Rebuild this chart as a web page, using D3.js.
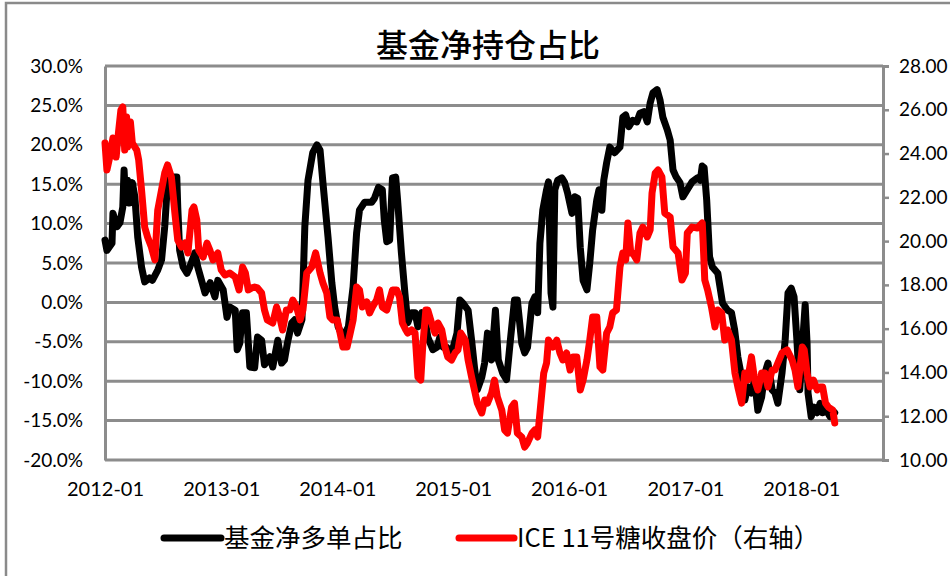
<!DOCTYPE html>
<html><head><meta charset="utf-8">
<script src="https://cdn.jsdelivr.net/npm/d3@7"></script>
<style>body{margin:0;background:#fff}svg{display:block}</style>
</head><body>
<svg id="chart" width="950" height="576"></svg>
<script>
const title = "基金净持仓占比";
const seriesNames = ["基金净多单占比", "ICE 11号糖收盘价（右轴）"];
const leftTicks = [-20,-15,-10,-5,0,5,10,15,20,25,30];
const rightTicks = [10,12,14,16,18,20,22,24,26,28];
const xTickLabels = ["2012-01","2013-01","2014-01","2015-01","2016-01","2017-01","2018-01"];

const fundDates = ["2012-01-01","2012-01-07","2012-01-23","2012-01-26","2012-02-08","2012-02-17","2012-02-26","2012-03-01","2012-03-06","2012-03-12","2012-03-18","2012-03-27","2012-04-04","2012-04-13","2012-04-25","2012-05-05","2012-05-20","2012-05-29","2012-06-15","2012-06-27","2012-07-07","2012-07-13","2012-07-16","2012-07-28","2012-08-14","2012-08-17","2012-08-23","2012-09-03","2012-09-15","2012-09-24","2012-10-10","2012-10-19","2012-11-02","2012-11-11","2012-11-27","2012-12-12","2012-12-21","2013-01-07","2013-01-19","2013-01-28","2013-02-14","2013-02-20","2013-02-28","2013-03-09","2013-03-21","2013-04-01","2013-04-16","2013-04-25","2013-05-08","2013-05-17","2013-06-03","2013-06-12","2013-06-28","2013-07-10","2013-07-19","2013-07-28","2013-08-11","2013-08-20","2013-08-29","2013-09-12","2013-09-21","2013-10-01","2013-10-16","2013-10-29","2013-11-08","2013-11-17","2013-12-03","2013-12-15","2013-12-24","2014-01-04","2014-01-19","2014-02-05","2014-02-20","2014-03-03","2014-03-12","2014-03-28","2014-04-19","2014-04-28","2014-05-11","2014-05-23","2014-05-29","2014-06-06","2014-06-15","2014-06-24","2014-07-04","2014-07-10","2014-07-22","2014-08-02","2014-08-11","2014-08-23","2014-09-03","2014-09-12","2014-09-24","2014-10-04","2014-10-13","2014-10-29","2014-11-11","2014-11-20","2014-11-30","2014-12-12","2014-12-21","2015-01-01","2015-01-13","2015-01-22","2015-02-01","2015-02-17","2015-02-28","2015-03-09","2015-03-18","2015-04-01","2015-04-10","2015-04-19","2015-05-02","2015-05-14","2015-05-23","2015-06-06","2015-06-18","2015-07-01","2015-07-13","2015-07-22","2015-08-05","2015-08-14","2015-08-23","2015-09-06","2015-09-15","2015-09-24","2015-10-01","2015-10-10","2015-10-22","2015-10-28","2015-11-05","2015-11-11","2015-11-17","2015-11-26","2015-12-09","2015-12-18","2015-12-27","2016-01-10","2016-01-19","2016-01-28","2016-02-05","2016-02-14","2016-02-26","2016-03-06","2016-03-15","2016-03-28","2016-04-04","2016-04-13","2016-04-19","2016-04-28","2016-05-08","2016-05-23","2016-06-09","2016-06-18","2016-06-27","2016-07-07","2016-07-19","2016-08-01","2016-08-11","2016-08-23","2016-09-03","2016-09-12","2016-09-21","2016-10-04","2016-10-13","2016-10-22","2016-11-05","2016-11-14","2016-11-23","2016-12-03","2016-12-15","2016-12-24","2017-01-07","2017-01-22","2017-02-08","2017-02-17","2017-02-23","2017-03-01","2017-03-09","2017-03-18","2017-03-27","2017-04-13","2017-04-28","2017-05-14","2017-05-26","2017-06-05","2017-06-15","2017-06-27","2017-07-07","2017-07-16","2017-07-28","2017-08-07","2017-08-17","2017-08-29","2017-09-08","2017-09-18","2017-10-01","2017-10-10","2017-10-19","2017-11-01","2017-11-11","2017-11-20","2017-11-30","2017-12-09","2017-12-18","2017-12-27","2018-01-07","2018-01-13","2018-01-19","2018-01-22","2018-02-01","2018-02-11","2018-02-20","2018-03-01","2018-03-09","2018-03-21","2018-04-01","2018-04-16"];
const fundPct = [7.9,6.6,7.5,11.3,9.6,10.1,12.1,16.8,13.0,15.5,12.6,15.2,13.4,8.3,4.5,2.6,3.1,2.8,4.1,5.4,9.6,13.4,15.5,15.9,15.9,12.1,6.6,4.5,3.7,4.5,6.3,4.5,2.5,1.2,2.5,0.7,2.8,1.6,-1.9,-0.6,-1.0,-6.0,-5.2,-1.3,-1.3,-8.2,-8.3,-4.4,-4.8,-7.9,-6.9,-8.2,-4.8,-7.7,-7.3,-5.2,-2.6,-2.2,-3.9,-2.2,9.6,15.5,19.0,20.0,19.3,15.2,8.3,2.5,-0.6,-3.1,-4.4,-3.1,2.0,8.8,11.7,12.7,12.7,13.2,14.6,14.3,10.5,7.7,7.9,15.8,15.9,13.0,6.3,1.2,-2.6,-1.3,-1.3,-3.1,-1.3,-1.9,-4.4,-6.0,-5.7,-4.4,-5.7,-5.7,-6.3,-5.7,-3.9,0.3,-0.1,-1.0,-4.8,-8.2,-11.1,-9.5,-7.7,-3.9,-7.3,-1.0,-7.3,-9.0,-9.8,-4.4,0.3,0.3,-5.2,-6.4,-5.7,-0.1,0.7,-1.3,7.5,11.7,14.3,15.3,1.2,-0.6,14.3,15.5,15.8,15.2,13.9,11.3,13.4,13.2,7.0,2.8,1.6,5.0,9.2,13.0,14.3,11.7,15.5,17.7,19.7,19.0,19.7,23.5,23.8,22.3,23.1,22.9,24.0,24.2,22.9,25.3,26.6,27.0,25.7,23.5,21.9,20.6,16.8,15.9,15.2,13.4,14.3,15.3,15.8,15.5,17.3,17.1,13.0,5.8,4.5,3.7,-0.1,-1.0,-1.3,-3.5,-6.9,-9.5,-12.4,-10.7,-11.5,-9.8,-13.7,-12.0,-9.0,-7.7,-11.1,-11.5,-12.8,-9.0,-4.8,1.2,1.8,0.7,-4.8,-11.1,-3.9,-0.3,-5.2,-11.5,-14.5,-13.3,-14.0,-12.8,-14.0,-13.7,-14.5,-14.0];

const sugarDates = ["2012-01-01","2012-01-07","2012-01-16","2012-01-26","2012-02-05","2012-02-11","2012-02-20","2012-02-26","2012-03-03","2012-03-09","2012-03-12","2012-03-21","2012-03-27","2012-04-10","2012-04-16","2012-04-25","2012-05-05","2012-05-14","2012-05-26","2012-06-06","2012-06-15","2012-06-27","2012-07-07","2012-07-16","2012-07-28","2012-08-08","2012-08-17","2012-08-29","2012-09-09","2012-09-18","2012-10-01","2012-10-07","2012-10-16","2012-10-22","2012-11-05","2012-11-17","2012-11-26","2012-12-06","2012-12-21","2013-01-01","2013-01-13","2013-01-28","2013-02-14","2013-02-26","2013-03-09","2013-03-18","2013-03-27","2013-04-07","2013-04-16","2013-04-25","2013-05-08","2013-05-17","2013-05-26","2013-06-12","2013-06-24","2013-07-04","2013-07-13","2013-07-25","2013-08-05","2013-08-14","2013-08-26","2013-09-06","2013-09-15","2013-09-27","2013-10-13","2013-10-25","2013-11-08","2013-11-17","2013-11-29","2013-12-09","2013-12-18","2014-01-01","2014-01-10","2014-01-19","2014-02-01","2014-02-11","2014-02-20","2014-03-03","2014-03-12","2014-03-21","2014-04-04","2014-04-13","2014-04-22","2014-05-05","2014-05-14","2014-05-23","2014-06-06","2014-06-15","2014-06-24","2014-07-07","2014-07-16","2014-07-25","2014-08-05","2014-08-11","2014-08-23","2014-09-03","2014-09-12","2014-09-21","2014-09-27","2014-10-07","2014-10-13","2014-10-25","2014-11-05","2014-11-14","2014-11-26","2014-12-06","2014-12-15","2014-12-27","2015-01-07","2015-01-16","2015-01-25","2015-02-08","2015-02-17","2015-02-28","2015-03-09","2015-03-18","2015-04-01","2015-04-10","2015-04-19","2015-05-02","2015-05-11","2015-05-20","2015-06-03","2015-06-12","2015-06-21","2015-07-04","2015-07-13","2015-07-22","2015-08-05","2015-08-14","2015-08-23","2015-09-06","2015-09-15","2015-09-24","2015-10-07","2015-10-13","2015-10-22","2015-10-28","2015-11-11","2015-11-23","2015-12-03","2015-12-12","2015-12-24","2016-01-04","2016-01-13","2016-01-25","2016-02-05","2016-02-14","2016-02-26","2016-03-06","2016-03-15","2016-03-28","2016-04-07","2016-04-16","2016-04-28","2016-05-08","2016-05-17","2016-05-29","2016-06-09","2016-06-18","2016-06-27","2016-07-04","2016-07-13","2016-07-19","2016-08-01","2016-08-11","2016-08-20","2016-09-03","2016-09-12","2016-09-18","2016-09-28","2016-10-07","2016-10-19","2016-10-28","2016-11-14","2016-11-23","2016-12-09","2016-12-21","2017-01-01","2017-01-07","2017-01-22","2017-02-08","2017-02-23","2017-02-26","2017-03-03","2017-03-12","2017-03-24","2017-04-04","2017-04-13","2017-04-25","2017-05-05","2017-05-14","2017-05-26","2017-06-06","2017-06-15","2017-06-27","2017-07-07","2017-07-16","2017-07-28","2017-08-07","2017-08-17","2017-08-29","2017-09-08","2017-09-18","2017-10-01","2017-10-10","2017-10-19","2017-11-01","2017-11-17","2017-12-03","2017-12-12","2017-12-21","2018-01-04","2018-01-10","2018-01-19","2018-01-28","2018-02-08","2018-02-20","2018-03-01","2018-03-09","2018-03-18","2018-03-27","2018-04-10","2018-04-16"];
const sugarPrice = [24.48,23.25,23.84,24.71,23.84,24.76,25.99,26.13,24.16,25.67,24.30,25.44,24.48,24.16,23.71,22.34,20.64,20.19,19.73,19.14,21.42,22.34,23.11,23.48,22.93,21.28,20.05,19.73,19.91,19.46,21.42,21.56,20.96,19.59,19.27,19.91,19.59,19.14,19.46,18.68,18.45,18.54,18.36,17.77,18.82,18.54,17.77,17.86,17.90,17.86,17.63,16.85,16.40,16.26,16.99,16.53,15.94,16.85,16.85,17.31,16.99,16.40,16.85,18.54,18.82,19.46,18.54,18.09,17.63,16.53,16.40,16.40,15.80,15.16,15.16,15.80,16.40,17.90,17.77,16.99,17.22,16.72,16.99,17.31,17.77,16.99,16.85,17.31,17.77,17.77,17.45,16.26,15.94,15.80,15.94,15.80,13.79,13.65,15.16,16.85,16.85,16.26,15.80,16.26,15.94,15.16,14.71,14.57,14.89,15.03,15.80,15.48,14.57,13.79,13.20,12.60,12.15,12.74,12.60,13.06,13.65,12.88,12.28,11.37,11.23,12.42,12.60,11.23,11.05,10.59,10.78,11.23,11.37,11.05,13.06,13.97,14.43,15.48,15.16,15.48,14.89,14.57,14.89,14.11,14.71,14.71,13.20,13.65,14.57,15.48,16.53,16.53,14.25,14.11,15.80,16.08,16.72,16.85,18.82,19.46,19.14,20.83,19.46,19.46,19.14,20.37,20.64,20.19,20.51,22.20,23.11,23.25,22.93,21.28,21.10,19.73,19.46,18.22,18.54,20.37,20.64,20.60,20.83,19.91,18.22,17.77,16.99,16.08,16.85,16.72,15.48,15.94,15.48,13.97,13.34,12.60,13.97,13.65,14.71,13.65,13.20,13.97,13.97,13.34,14.11,14.11,14.43,14.89,15.03,14.57,14.11,13.34,15.16,15.03,13.97,13.34,13.65,13.20,13.34,13.34,12.60,12.42,12.28,11.69];

const parse = d3.timeParse("%Y-%m-%d");
const parseMonth = d3.timeParse("%Y-%m");
const fund = fundDates.map((d,i)=>({date:parse(d), v:fundPct[i]}));
const sugar = sugarDates.map((d,i)=>({date:parse(d), v:sugarPrice[i]}));

const L = 105, R = 883, T = 66, B = 460;
const svg = d3.select("#chart");
const x = d3.scaleTime().domain([new Date(2012,0,1), new Date(2018,8,15)]).range([L, R]);
const yL = d3.scaleLinear().domain([-20,30]).range([B, T]);
const yR = d3.scaleLinear().domain([10,28]).range([B, T]);
const grid = "#8c8c8c";
const numFont = "Lato, 'Open Sans', sans-serif";

// outer chart border
svg.append("path").attr("d", `M6,576 V3 H950`).attr("fill","none").attr("stroke","#8a8a8a").attr("stroke-width",2.5);

// title
svg.append("text").attr("x", 488).attr("y", 57).attr("text-anchor","middle")
  .attr("font-family","'Noto Sans CJK SC', sans-serif").attr("font-size", 32).attr("font-weight", 500)
  .attr("fill","#000").text(title);

// gridlines
svg.append("g").selectAll("line").data(leftTicks).join("line")
  .attr("x1", L).attr("x2", R).attr("y1", d=>yL(d)).attr("y2", d=>yL(d))
  .attr("stroke", grid).attr("stroke-width", 3);

// left axis
const gL = svg.append("g").attr("transform", `translate(${L},0)`)
  .call(d3.axisLeft(yL).tickValues(leftTicks).tickFormat(d=>d.toFixed(1)+"%").tickSize(0).tickPadding(22));
gL.select(".domain").attr("stroke", grid).attr("stroke-width", 3);
gL.selectAll("text").attr("font-family", numFont).attr("font-size", 19).attr("fill","#000");

// right axis
const gR = svg.append("g").attr("transform", `translate(${R},0)`)
  .call(d3.axisRight(yR).tickValues(rightTicks).tickFormat(d3.format(".2f")).tickSize(6).tickPadding(10));
gR.select(".domain").attr("stroke", grid).attr("stroke-width", 3);
gR.selectAll("line").attr("stroke", grid).attr("stroke-width", 2.5);
gR.selectAll("text").attr("font-family", numFont).attr("font-size", 19).attr("fill","#000");

// bottom axis labels
const gB = svg.append("g").attr("transform", `translate(0,${B})`)
  .call(d3.axisBottom(x).tickValues(xTickLabels.map(s=>parseMonth(s))).tickFormat(d3.timeFormat("%Y-%m")).tickSize(0).tickPadding(22));
gB.select(".domain").remove();
gB.selectAll("text").attr("font-family", numFont).attr("font-size", 20).attr("fill","#000");

// lines
const lineL = d3.line().x(d=>x(d.date)).y(d=>yL(d.v));
const lineR = d3.line().x(d=>x(d.date)).y(d=>yR(d.v));
svg.append("path").datum(fund).attr("d", lineL).attr("fill","none").attr("stroke","#000")
  .attr("stroke-width", 7).attr("stroke-linejoin","round").attr("stroke-linecap","round");
svg.append("path").datum(sugar).attr("d", lineR).attr("fill","none").attr("stroke","#ff0000")
  .attr("stroke-width", 7).attr("stroke-linejoin","round").attr("stroke-linecap","round");

// legend
const legend = [
  {name: seriesNames[0], color:"#000", x1:164, x2:221, tx:224},
  {name: seriesNames[1], color:"#ff0000", x1:459, x2:514, tx:517}
];
const lg = svg.append("g");
legend.forEach(l=>{
  lg.append("line").attr("x1", l.x1).attr("x2", l.x2).attr("y1", 538).attr("y2", 538)
    .attr("stroke", l.color).attr("stroke-width", 7).attr("stroke-linecap","round");
  lg.append("text").attr("x", l.tx).attr("y", 547).attr("font-family","'Noto Sans CJK SC', sans-serif")
    .attr("font-size", 25.5).attr("fill","#000").text(l.name);
});
</script>
</body></html>
